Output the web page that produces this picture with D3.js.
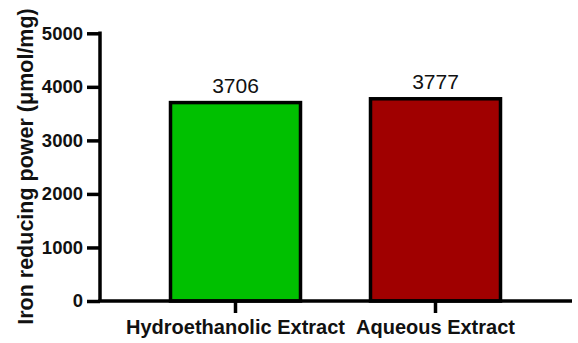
<!DOCTYPE html>
<html>
<head>
<meta charset="utf-8">
<script src="https://cdn.jsdelivr.net/npm/d3@7"></script>
<style>
  body { margin: 0; background: #fff; }
  svg { display: block; font-family: "Liberation Sans", Arial, Helvetica, sans-serif; }
</style>
</head>
<body>
<svg id="chart" width="578" height="343"></svg>
<script>
// data
var categories = ["Hydroethanolic Extract", "Aqueous Extract"]
var means = [3706, 3777]
var sds = [20, 20]   // error bars barely visible above the bars
var barColors = ["#00c000", "#a00000"]
var yTicks = [0, 1000, 2000, 3000, 4000, 5000]
var yTitle = "Iron reducing power (\u03bcmol/mg)"

var svg = d3.select("#chart")

var x = d3.scaleBand()
	.domain(categories)
	.range([100, 571])
	.paddingInner(0.35)
	.paddingOuter(0.3525)

var y = d3.scaleLinear()
	.domain([0, 5000])
	.range([301, 33.3])

var data = categories.map(function(c, i) {
	return { cat: c, mean: means[i], sd: sds[i], color: barColors[i] }
})

// error bar caps (drawn first, bars cover the stem)
svg.selectAll(".cap").data(data).enter()
	.append("line")
	.attr("class", "cap")
	.attr("x1", function(d) { return x(d.cat) + x.bandwidth() / 2 - 34 })
	.attr("x2", function(d) { return x(d.cat) + x.bandwidth() / 2 + 34 })
	.attr("y1", function(d) { return y(d.mean + d.sd) })
	.attr("y2", function(d) { return y(d.mean + d.sd) })
	.attr("stroke", "#999")
	.attr("stroke-width", 1)

// bars
svg.selectAll(".bar").data(data).enter()
	.append("rect")
	.attr("class", "bar")
	.attr("x", function(d) { return x(d.cat) })
	.attr("y", function(d) { return y(d.mean) })
	.attr("width", x.bandwidth())
	.attr("height", function(d) { return y(0) - y(d.mean) })
	.attr("fill", function(d) { return d.color })
	.attr("stroke", "#000")
	.attr("stroke-width", 3.5)

// value labels
svg.selectAll(".val").data(data).enter()
	.append("text")
	.attr("class", "val")
	.attr("x", function(d) { return x(d.cat) + x.bandwidth() / 2 })
	.attr("y", function(d) { return y(d.mean) - 10 })
	.attr("text-anchor", "middle")
	.attr("font-size", "21px")
	.attr("fill", "#111")
	.text(function(d) { return d.mean })

// y axis
var yAxis = svg.append("g")
	.attr("transform", "translate(100,0)")
	.call(d3.axisLeft(y).tickValues(yTicks).tickSize(13).tickPadding(4).tickSizeOuter(0).tickFormat(d3.format("d")))
yAxis.attr("font-family", null)
yAxis.select(".domain").attr("stroke", "#000").attr("stroke-width", 3.5)
	.attr("d", "M0," + (y(5000) - 1.75) + "V" + y(0))
yAxis.selectAll(".tick line").attr("stroke", "#000").attr("stroke-width", 3.5)
yAxis.selectAll(".tick text")
	.attr("font-size", "18.5px")
	.attr("font-weight", "bold")
	.attr("fill", "#111")

// x axis
var xAxis = svg.append("g")
	.attr("transform", "translate(0," + y(0) + ")")
	.call(d3.axisBottom(x).tickSize(12).tickPadding(0).tickSizeOuter(0))
xAxis.attr("font-family", null)
xAxis.select(".domain").attr("stroke", "#000").attr("stroke-width", 3.5)
	.attr("d", "M" + (100 - 1.75) + ",0H" + 572)
xAxis.selectAll(".tick line").attr("stroke", "#000").attr("stroke-width", 3.5)
xAxis.selectAll(".tick text")
	.attr("y", 33)
	.attr("dy", null)
	.attr("font-size", "20px")
	.attr("font-weight", "bold")
	.attr("fill", "#111")

// y title
svg.append("text")
	.attr("transform", "translate(33,166.5) rotate(-90)")
	.attr("text-anchor", "middle")
	.attr("font-size", "21.5px")
	.attr("font-weight", "bold")
	.attr("fill", "#111")
	.text(yTitle)
</script>
</body>
</html>
